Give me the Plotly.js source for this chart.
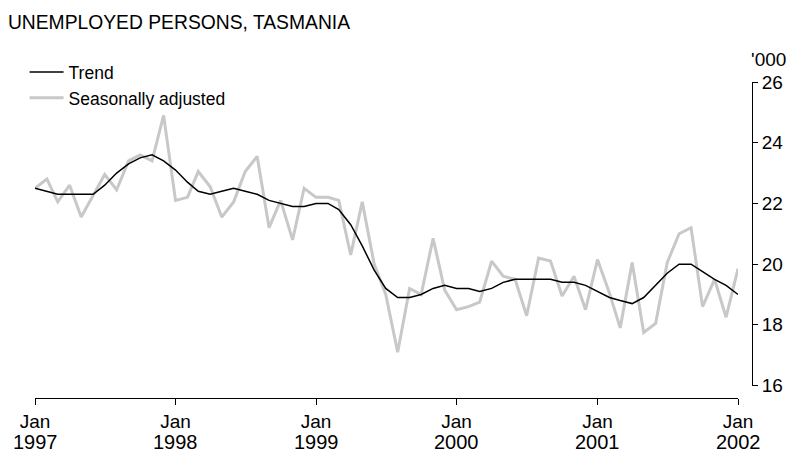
<!DOCTYPE html>
<html>
<head>
<meta charset="utf-8">
<script src="https://cdn.plot.ly/plotly-3.0.1.min.js"></script>
<style>html,body{margin:0;padding:0;background:#fff;}#chart{width:792px;height:452px;}</style>
</head>
<body>
<div id="chart"></div>
<script>
var startYear = 1997;
var monthCount = 61;
var trend = [22.5, 22.4, 22.3, 22.3, 22.3, 22.3, 22.6, 23.0, 23.3, 23.5, 23.6, 23.4,
  23.1, 22.7, 22.4, 22.3, 22.4, 22.5, 22.4, 22.3, 22.1, 22.0, 21.9, 21.9,
  22.0, 22.0, 21.8, 21.3, 20.6, 19.8, 19.2, 18.9, 18.9, 19.0, 19.2, 19.3,
  19.2, 19.2, 19.1, 19.2, 19.4, 19.5, 19.5, 19.5, 19.5, 19.4, 19.4, 19.3,
  19.1, 18.9, 18.8, 18.7, 18.9, 19.3, 19.7, 20.0, 20.0, 19.75, 19.5, 19.3,
  19.0];
var seasAdj = [22.5, 22.8, 22.05, 22.6, 21.55, 22.25, 22.95, 22.45, 23.4, 23.6, 23.4, 24.9,
  22.1, 22.2, 23.05, 22.55, 21.55, 22.05, 23.05, 23.55, 21.2, 22.1, 20.8, 22.5,
  22.2, 22.2, 22.1, 20.3, 22.05, 20.0, 19.0, 17.1, 19.2, 19.0, 20.85, 19.15,
  18.5, 18.6, 18.75, 20.1, 19.6, 19.5, 18.3, 20.2, 20.1, 18.95, 19.6, 18.5,
  20.15, 19.05, 17.9, 20.05, 17.75, 18.05, 20.05, 21.0, 21.2, 18.6, 19.5, 18.25,
  19.85];
var tickVals = ['1997-01-01', '1998-01-01', '1999-01-01', '2000-01-01', '2001-01-01', '2002-01-01'];
var monthLabels = ['Jan', 'Jan', 'Jan', 'Jan', 'Jan', 'Jan'];
var yearLabels = ['1997', '1998', '1999', '2000', '2001', '2002'];
var yTicks = [16, 18, 20, 22, 24, 26];

var months = [];
for (var i = 0; i < monthCount; i++) {
  var y = startYear + Math.floor(i / 12);
  var m = (i % 12) + 1;
  months.push(y + '-' + (m < 10 ? '0' + m : m) + '-01');
}

var FONT = '"Liberation Sans", Arial, sans-serif';

var data = [
  {x: months, y: seasAdj, type: 'scatter', mode: 'lines', name: 'Seasonally adjusted',
   line: {color: '#c8c8c8', width: 3}},
  {x: months, y: trend, type: 'scatter', mode: 'lines', name: 'Trend',
   line: {color: '#000000', width: 1.5}}
];

var annotations = [{
  text: "'000", xref: 'paper', yref: 'paper', x: 1, y: 1, xanchor: 'left', yanchor: 'middle',
  xshift: -3, yshift: 23, showarrow: false, font: {family: FONT, size: 19, color: '#000'}
}];
for (var k = 0; k < tickVals.length; k++) {
  annotations.push({
    text: yearLabels[k], xref: 'x', yref: 'paper', x: tickVals[k], y: 0,
    xanchor: 'center', yanchor: 'middle', yshift: -44, showarrow: false,
    font: {family: FONT, size: 20, color: '#000'}
  });
}

var layout = {
  width: 792, height: 452,
  margin: {l: 35, r: 39.5, t: 81.5, b: 53.5, autoexpand: false},
  paper_bgcolor: '#fff', plot_bgcolor: '#fff',
  font: {family: FONT, size: 17, color: '#000'},
  showlegend: true,
  legend: {
    traceorder: 'reversed',
    xref: 'container', yref: 'container',
    x: 0.031, y: 0.88, xanchor: 'left', yanchor: 'top',
    font: {family: FONT, size: 17.5, color: '#000'},
    bgcolor: 'rgba(0,0,0,0)', itemwidth: 34, tracegroupgap: 0
  },
  title: {
    text: 'UNEMPLOYED PERSONS, TASMANIA',
    xref: 'container', yref: 'container',
    x: 0.01, xanchor: 'left', y: 0.951, yanchor: 'middle',
    font: {family: FONT, size: 19.3, color: '#000'}
  },
  xaxis: {
    type: 'date',
    domain: [0, 0.9805],
    range: ['1997-01-01', '2002-01-01'],
    anchor: 'free', position: 0,
    tickmode: 'array', tickvals: tickVals, ticktext: monthLabels,
    ticks: 'outside', ticklen: 6, tickwidth: 1, tickcolor: '#000',
    showline: true, linecolor: '#000', linewidth: 1,
    showgrid: false, zeroline: false,
    tickfont: {family: FONT, size: 19, color: '#000'}
  },
  yaxis: {
    range: [16, 26],
    domain: [0.0394, 1],
    side: 'right', anchor: 'free', position: 1,
    tickmode: 'array', tickvals: yTicks,
    ticks: 'outside', ticklen: 5, tickwidth: 1, tickcolor: '#000',
    showline: true, linecolor: '#000', linewidth: 1,
    showgrid: false, zeroline: false,
    tickfont: {family: FONT, size: 19, color: '#000'}
  },
  annotations: annotations
};

Plotly.newPlot('chart', data, layout, {displayModeBar: false, staticPlot: true});
</script>
</body>
</html>
